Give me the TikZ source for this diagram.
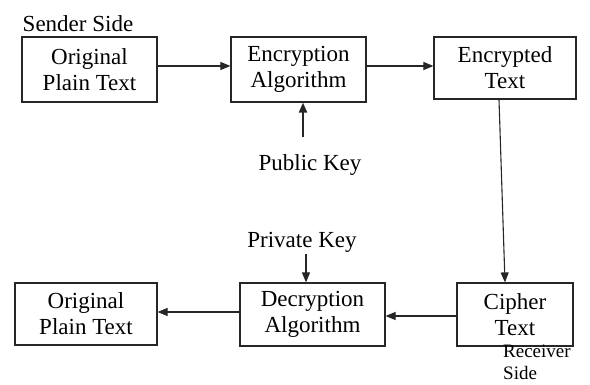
\documentclass[tikz,border=0pt]{standalone}
\usepackage{fontspec}
\setmainfont{Liberation Serif}
\usetikzlibrary{arrows.meta,positioning}

\begin{document}
\begin{tikzpicture}[x=1pt, y=-1pt,
  node_box/.style={draw=black!85, line width=1.2pt, align=center, inner sep=0pt, font=\fontsize{23}{26}\selectfont},
  node_lbl/.style={align=left, inner sep=0pt, font=\fontsize{23}{24}\selectfont},
  arr/.style={-{Triangle[length=10pt, width=8pt]}, line width=1.1pt, black!85}
]
  \useasboundingbox (0,0) rectangle (590,385);

  %% Sender side
  \node[node_lbl] (sender) at (78,24) {Sender Side};
  \node[node_box, minimum width=135pt, minimum height=65pt] (orig1) at (89.5,69.5) {Original\\Plain Text};
  \node[node_box, minimum width=135pt, minimum height=65pt] (enc)   at (298.5,69.5) {Encryption\\Algorithm};
  \node[node_box, minimum width=142pt, minimum height=62pt] (encd)  at (505,68) {Encrypted\\Text};
  \node[node_lbl] (pubkey) at (310,165) {Public Key};
  \coordinate (pubtail) at (303,137);

  \draw[arr] (orig1.east |- 0,66) -- (enc.west |- 0,66);
  \draw[arr] (enc.east |- 0,66) -- (encd.west |- 0,66);
  \draw[arr, line width=2.2pt] (pubtail) -- (pubtail |- enc.south);

  %% Receiver side
  \node[node_box, minimum width=116pt, minimum height=63pt] (cipher) at (515,314.5) {Cipher\\Text};
  \node[node_box, minimum width=145pt, minimum height=63pt] (dec)    at (312.5,314.5) {Decryption\\Algorithm};
  \node[node_box, minimum width=142pt, minimum height=62pt] (orig2)  at (86,314) {Original\\Plain Text};
  \node[node_lbl] (privkey) at (302,242) {Private Key};
  \node[node_lbl, anchor=base west, font=\fontsize{19}{21}\selectfont] (receiver) at (503,379) {Receiver\\Side};
  \coordinate (privtail) at (306,254);

  \draw[arr] ([xshift=-6pt]encd.south) -- ([xshift=-10pt]cipher.north);
  \draw[arr] (cipher.west |- 0,316) -- (dec.east |- 0,316);
  \draw[arr] (dec.west |- 0,312) -- (orig2.east |- 0,312);
  \draw[arr] (privtail) -- (privtail |- dec.north);
\end{tikzpicture}
\end{document}
